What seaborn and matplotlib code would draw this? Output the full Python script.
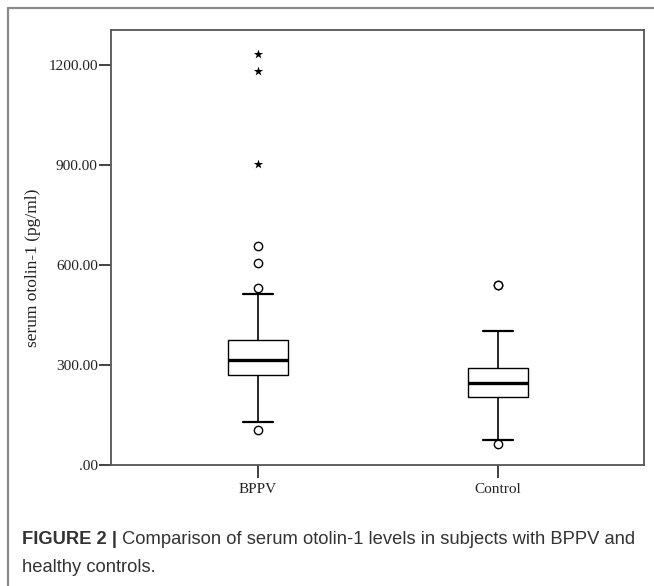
import matplotlib
matplotlib.use("Agg")
import matplotlib.pyplot as plt
import seaborn as sns
import pandas as pd
from matplotlib.lines import Line2D

# ---- data ----
groups = ["BPPV", "Control"]
# five-number summaries: lower whisker, Q1, median, Q3, upper whisker
bppv_box = [129, 271, 314, 374, 514]
control_box = [76, 203, 247, 292, 402]
# outliers (circles) and extreme values (stars)
bppv_outliers = [104, 532, 607, 656]
control_outliers = [64, 539, 541]
bppv_extremes = [901, 1181, 1231]
control_extremes = []
y_ticks = [0, 300, 600, 900, 1200]
y_tick_labels = [".00", "300.00", "600.00", "900.00", "1200.00"]
y_label = "serum otolin-1 (pg/ml)"
caption_bold = "FIGURE 2 |"
caption_rest = " Comparison of serum otolin-1 levels in subjects with BPPV and"
caption_line2 = "healthy controls."

box_df = pd.DataFrame({
    "group": ["BPPV"] * len(bppv_box) + ["Control"] * len(control_box),
    "value": bppv_box + control_box,
})
out_df = pd.DataFrame({
    "group": ["BPPV"] * len(bppv_outliers) + ["Control"] * len(control_outliers),
    "value": bppv_outliers + control_outliers,
})
ext_df = pd.DataFrame({
    "group": ["BPPV"] * len(bppv_extremes) + ["Control"] * len(control_extremes),
    "value": bppv_extremes + control_extremes,
})

sns.set_style("white")
plt.rcParams["font.family"] = ["Liberation Serif", "DejaVu Serif"]

W, H = 654, 586
fig = plt.figure(figsize=(W / 100, H / 100), dpi=100)
ax = fig.add_axes([111 / W, 1 - 465 / H, (644 - 111) / W, (465 - 30) / H])

sns.boxplot(data=box_df, x="group", y="value", order=groups, width=0.25,
            whis=(0, 100), showfliers=False, color="white", linecolor="black",
            linewidth=1.0, medianprops={"linewidth": 2.4, "color": "black"},
            whiskerprops={"linewidth": 1.2}, capprops={"linewidth": 1.6},
            ax=ax)
sns.stripplot(data=out_df, x="group", y="value", order=groups, jitter=False,
              marker="o", size=6, color="white", edgecolor="black",
              linewidth=1.0, ax=ax)
sns.stripplot(data=ext_df, x="group", y="value", order=groups, jitter=False,
              marker="*", size=7, color="black", edgecolor="black",
              linewidth=0, ax=ax)

ax.set_xlim(-0.613, 1.609)
ax.set_ylim(0, 1304)
ax.set_yticks(y_ticks)
ax.set_yticklabels(y_tick_labels)
ax.set_xlabel("")
ax.set_ylabel("")
ax.tick_params(axis="y", direction="out", length=9, width=1.2, pad=0.5,
               labelsize=11, left=True, colors="#222222")
ax.tick_params(axis="x", direction="out", length=9, width=1.2, pad=4,
               labelsize=11, bottom=True, colors="#222222")
for s in ax.spines.values():
    s.set_visible(True)
    s.set_color("#555555")
    s.set_linewidth(1.3)

fig.text(33 / W, 1 - 268 / H, y_label, rotation=90, ha="center", va="center",
         fontsize=12.5, color="#222222")

# outer frame (top and left borders)
fig.add_artist(Line2D([8 / W, 1.0], [1 - 8 / H, 1 - 8 / H], transform=fig.transFigure,
                      color="#8a8a8a", linewidth=1.6))
fig.add_artist(Line2D([8 / W, 8 / W], [0, 1 - 8 / H], transform=fig.transFigure,
                      color="#8a8a8a", linewidth=1.6))

# caption
cap_font = ["Liberation Sans", "DejaVu Sans"]
t1 = fig.text(22 / W, 1 - 540 / H, caption_bold, fontsize=13.2, fontweight="bold",
              family=cap_font, va="center", ha="left", color="#333333")
fig.canvas.draw()
bb = t1.get_window_extent(renderer=fig.canvas.get_renderer())
fig.text(bb.x1 / W, 1 - 540 / H, caption_rest, fontsize=13.2, family=cap_font,
         va="center", ha="left", color="#333333")
fig.text(22 / W, 1 - 567 / H, caption_line2, fontsize=13.2, family=cap_font,
         va="center", ha="left", color="#333333")

fig.savefig("out.png", dpi=100)
